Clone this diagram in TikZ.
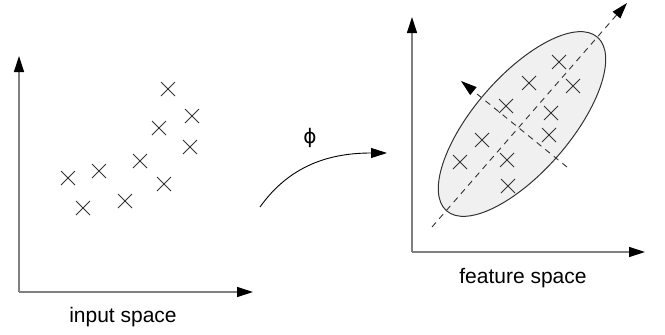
\documentclass[tikz,border=0pt]{standalone}
\usepackage{fontspec}
\setmainfont{Liberation Sans}
\newfontfamily\phifont{DejaVu Sans}
\usetikzlibrary{arrows.meta}
\tikzset{
  tip/.style={-{Triangle[length=16pt,width=10pt,black]}},
  axis/.style={draw=black!50,line width=1.3pt,tip},
  cross/.style={draw=black!80,line width=0.9pt},
  pcaline/.style={dashed,dash pattern=on 6pt off 5pt,line width=0.9pt,black!80,tip},
  lbl/.style={font=\fontsize{21}{25}\selectfont}
}
\begin{document}
\begin{tikzpicture}[x=1pt,y=-1pt]
\useasboundingbox (0,0) rectangle (665,335);

% input space
\coordinate (o1) at (19,292);
\draw[axis] (o1) -- (19,56);
\draw[axis] (o1) -- (253,292);
\foreach \p in {(168,89),(192,116),(159,128),(190,147),(140,161),
                (99,171),(68,178),(164,184),(125,201),(83,208)}
  \draw[cross] \p +(-7,-7) -- +(7,7) \p +(-7,7) -- +(7,-7);
\node[lbl] (inlbl) at (123,317) {input space};

% the map
\coordinate (m1) at (260,207);
\coordinate (m2) at (387,153);
\draw[line width=0.9pt,tip] (m1) .. controls (290,165) and (330,153) .. (m2);
\node[font=\phifont\fontsize{20}{24}\selectfont] (phi) at (310,138) {ϕ};

% feature space
\coordinate (o2) at (412,252);
\filldraw[fill=black!6,draw=black!80,line width=1pt,rotate around={49:(522,124)}]
  (522,124) ellipse [x radius=115,y radius=48];
\draw[pcaline] (432,227) -- (627,3);
\draw[pcaline] (567,167) -- (461,81);
\draw[axis] (o2) -- (412,17);
\draw[axis] (o2) -- (645,252);
\foreach \p in {(559,62),(529,83),(573,86),(506,106),(551,113),
                (482,140),(549,135),(460,162),(507,160),(508,186)}
  \draw[cross] \p +(-7,-7) -- +(7,7) \p +(-7,7) -- +(7,-7);
\node[lbl] (ftlbl) at (523,278) {feature space};
\end{tikzpicture}
\end{document}
